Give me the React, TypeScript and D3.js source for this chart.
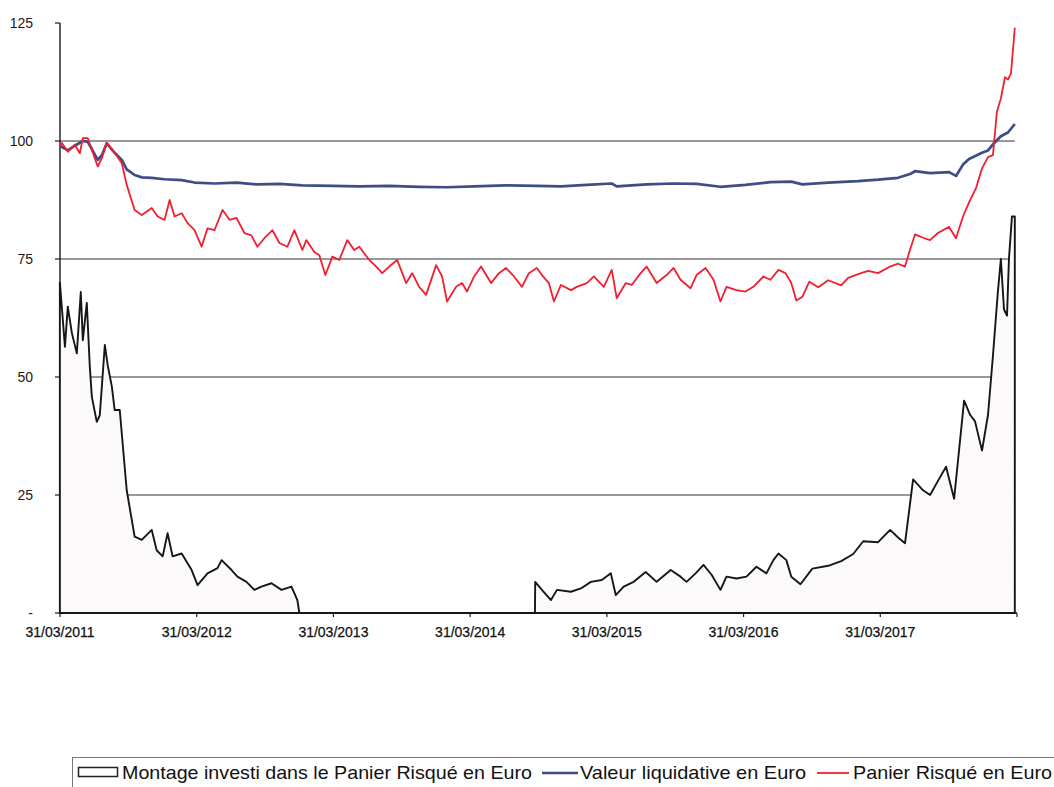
import React from "react";
import * as d3 from "d3";

// ---- Data (decimal year, value) ----
const montageInvesti: [number, number][] = [
  [2011.245, 70], [2011.267, 62], [2011.282, 56.4], [2011.303, 64.9], [2011.333, 59.3],
  [2011.369, 55], [2011.398, 68], [2011.413, 57.8], [2011.442, 65.7], [2011.464, 52.2],
  [2011.479, 45.8], [2011.515, 40.5], [2011.537, 41.9], [2011.574, 56.8], [2011.595, 52.5],
  [2011.625, 48], [2011.646, 43], [2011.683, 43], [2011.734, 26], [2011.792, 16.2],
  [2011.844, 15.5], [2011.917, 17.6], [2011.953, 13.3], [2011.997, 12], [2012.033, 16.9],
  [2012.07, 12], [2012.136, 12.6], [2012.209, 9.1], [2012.252, 5.9], [2012.325, 8.4],
  [2012.398, 9.5], [2012.428, 11.2], [2012.501, 9.1], [2012.544, 7.7], [2012.61, 6.6],
  [2012.668, 4.9], [2012.719, 5.6], [2012.793, 6.3], [2012.866, 4.9], [2012.939, 5.6],
  [2012.96, 4.2], [2012.982, 2.75], [2012.997, 0], [2014.72, 0], [2014.722, 6.6],
  [2014.771, 4.9], [2014.837, 2.75], [2014.881, 4.9], [2014.983, 4.5], [2015.056, 5.2],
  [2015.129, 6.6], [2015.209, 7], [2015.275, 8.4], [2015.311, 3.8], [2015.369, 5.6],
  [2015.442, 6.6], [2015.53, 8.7], [2015.61, 6.6], [2015.713, 9.1], [2015.785, 7.7],
  [2015.829, 6.6], [2015.895, 8.4], [2015.953, 10.2], [2016.012, 8.1], [2016.077, 4.9],
  [2016.121, 7.7], [2016.194, 7.3], [2016.267, 7.7], [2016.34, 9.8], [2016.413, 8.4],
  [2016.464, 11.2], [2016.501, 12.6], [2016.559, 11.2], [2016.595, 7.7], [2016.662, 6.1],
  [2016.749, 9.4], [2016.865, 10], [2016.96, 11], [2017.048, 12.5], [2017.121, 15.2],
  [2017.23, 15], [2017.318, 17.6], [2017.376, 16], [2017.427, 14.8], [2017.486, 28.3],
  [2017.559, 26], [2017.61, 25], [2017.668, 28], [2017.727, 31], [2017.786, 24.2],
  [2017.859, 45], [2017.903, 42], [2017.939, 40.6], [2017.99, 34.4], [2018.034, 42],
  [2018.07, 54.5], [2018.106, 68], [2018.128, 75], [2018.151, 64.3], [2018.173, 63],
  [2018.187, 75], [2018.209, 84], [2018.23, 84],
];

const valeurLiquidative: [number, number][] = [
  [2011.245, 99], [2011.303, 98], [2011.354, 99], [2011.413, 100], [2011.449, 99.8],
  [2011.479, 98.3], [2011.522, 96], [2011.552, 97], [2011.588, 99.5], [2011.646, 97.5],
  [2011.698, 96], [2011.734, 94], [2011.792, 92.8], [2011.844, 92.3], [2011.917, 92.2],
  [2012.011, 91.9], [2012.136, 91.7], [2012.23, 91.2], [2012.376, 91], [2012.537, 91.2],
  [2012.69, 90.8], [2012.851, 90.9], [2013.019, 90.6], [2013.238, 90.5], [2013.435, 90.4],
  [2013.654, 90.5], [2013.873, 90.3], [2014.077, 90.2], [2014.275, 90.4], [2014.508, 90.6],
  [2014.734, 90.5], [2014.91, 90.4], [2015.099, 90.7], [2015.282, 91], [2015.318, 90.4],
  [2015.537, 90.8], [2015.734, 91], [2015.902, 90.9], [2016.077, 90.3], [2016.26, 90.7],
  [2016.442, 91.3], [2016.595, 91.4], [2016.676, 90.8], [2016.865, 91.2], [2017.084, 91.5],
  [2017.23, 91.8], [2017.376, 92.2], [2017.464, 93], [2017.5, 93.6], [2017.61, 93.2],
  [2017.749, 93.4], [2017.8, 92.6], [2017.851, 95], [2017.895, 96.2], [2017.99, 97.5],
  [2018.034, 98], [2018.07, 99.3], [2018.128, 101], [2018.18, 101.8], [2018.23, 103.6],
];

const panierRisque: [number, number][] = [
  [2011.245, 99], [2011.26, 99.6], [2011.303, 97.7], [2011.354, 99.2], [2011.391, 97.4],
  [2011.413, 100.6], [2011.449, 100.6], [2011.479, 98.1], [2011.522, 94.6], [2011.552, 96.4],
  [2011.588, 99.6], [2011.646, 97.5], [2011.698, 95.3], [2011.734, 90.7], [2011.792, 85.4],
  [2011.844, 84.3], [2011.917, 85.8], [2011.96, 84], [2012.011, 83.3], [2012.048, 87.5],
  [2012.084, 84], [2012.136, 84.7], [2012.179, 82.6], [2012.23, 81.1], [2012.282, 77.6],
  [2012.325, 81.5], [2012.376, 81.1], [2012.435, 85.4], [2012.486, 83.3], [2012.537, 83.7],
  [2012.595, 80.5], [2012.646, 80], [2012.69, 77.6], [2012.741, 79.4], [2012.8, 81.1],
  [2012.851, 78.4], [2012.909, 77.6], [2012.96, 81.1], [2013.019, 76.9], [2013.048, 79],
  [2013.106, 76.5], [2013.143, 75.8], [2013.187, 71.6], [2013.238, 75.5], [2013.289, 74.8],
  [2013.347, 79], [2013.398, 76.9], [2013.435, 77.6], [2013.508, 74.8], [2013.559, 73.4],
  [2013.603, 72], [2013.654, 73.4], [2013.712, 74.8], [2013.778, 69.9], [2013.822, 72],
  [2013.873, 69.1], [2013.924, 67.4], [2013.997, 73.7], [2014.041, 71.3], [2014.077, 66],
  [2014.143, 69.1], [2014.187, 69.9], [2014.223, 68.1], [2014.275, 71.3], [2014.326, 73.4],
  [2014.399, 69.9], [2014.457, 72], [2014.508, 73.1], [2014.567, 71.3], [2014.625, 69.1],
  [2014.676, 72], [2014.734, 73.1], [2014.771, 71.6], [2014.822, 69.9], [2014.859, 66],
  [2014.91, 69.5], [2014.983, 68.4], [2015.026, 69.1], [2015.099, 69.9], [2015.151, 71.3],
  [2015.224, 69.1], [2015.282, 72.7], [2015.318, 66.7], [2015.384, 69.9], [2015.428, 69.5],
  [2015.493, 72], [2015.537, 73.4], [2015.61, 69.9], [2015.683, 71.6], [2015.734, 73.1],
  [2015.785, 70.6], [2015.858, 68.8], [2015.902, 71.6], [2015.968, 73.1], [2016.026, 70.6],
  [2016.077, 66], [2016.121, 69.1], [2016.194, 68.4], [2016.26, 68.1], [2016.318, 69.1],
  [2016.391, 71.3], [2016.442, 70.6], [2016.501, 72.7], [2016.552, 72], [2016.595, 69.9],
  [2016.632, 66.2], [2016.676, 67], [2016.727, 70.2], [2016.792, 69], [2016.865, 70.5],
  [2016.96, 69.4], [2017.011, 71], [2017.084, 71.8], [2017.157, 72.5], [2017.23, 72],
  [2017.318, 73.4], [2017.376, 74], [2017.427, 73.4], [2017.464, 77], [2017.5, 80.2],
  [2017.559, 79.5], [2017.61, 79], [2017.668, 80.5], [2017.749, 81.8], [2017.8, 79.4],
  [2017.851, 84], [2017.895, 87], [2017.946, 90], [2017.99, 94.2], [2018.034, 96.6],
  [2018.07, 97], [2018.099, 106.2], [2018.128, 109], [2018.158, 113.5], [2018.18, 113],
  [2018.202, 114.3], [2018.23, 124],
];

const tickYears = [2011, 2012, 2013, 2014, 2015, 2016, 2017, 2018];
const xTickLabels = ["31/03/2011", "31/03/2012", "31/03/2013", "31/03/2014", "31/03/2015", "31/03/2016", "31/03/2017", ""];
const yTicks = [0, 25, 50, 75, 100, 125];
const yTickLabels = ["-", "25", "50", "75", "100", "125"];
const gridValues = [25, 50, 75, 100];
const legendLabels = [
  "Montage investi dans le Panier Risqué en Euro",
  "Valeur liquidative en Euro",
  "Panier Risqué en Euro",
];

const MARCH31 = 0.246;
const FONT = "'Liberation Sans', Arial, sans-serif";

export default function App() {
  const W = 1054;
  const H = 787;
  const x = d3.scaleLinear().domain([2011 + MARCH31, 2018 + MARCH31]).range([60, 1017]);
  const y = d3.scaleLinear().domain([0, 125]).range([613, 23]);

  const area = d3
    .area<[number, number]>()
    .x((d) => x(d[0]))
    .y0(y(0))
    .y1((d) => y(d[1]));
  const line = d3
    .line<[number, number]>()
    .x((d) => x(d[0]))
    .y((d) => y(d[1]));

  const gridEnd = x(montageInvesti[montageInvesti.length - 1][0]);

  return (
    <svg
      width={W}
      height={H}
      style={{ position: "absolute", left: 0, top: 0, background: "#fff" }}
      fontFamily={FONT}
    >
      <rect x={0} y={0} width={W} height={H} fill="#fff" />
      {/* gridlines */}
      {gridValues.map((v) => (
        <line key={v} x1={x.range()[0]} x2={gridEnd} y1={y(v)} y2={y(v)} stroke="#333" strokeWidth={1} />
      ))}
      {/* axes */}
      <line x1={60} x2={60} y1={y(125)} y2={y(0)} stroke="#1a1a1a" strokeWidth={1.4} />
      <line x1={60} x2={x.range()[1]} y1={y(0)} y2={y(0)} stroke="#1a1a1a" strokeWidth={1.4} />
      {yTicks.map((v, i) => (
        <g key={v}>
          <line x1={55} x2={60} y1={y(v)} y2={y(v)} stroke="#1a1a1a" strokeWidth={1.2} />
          <text x={33} y={y(v)} dy="0.35em" textAnchor="end" fontSize={14} fill="#1a1a1a">
            {yTickLabels[i]}
          </text>
        </g>
      ))}
      {tickYears.map((yr, i) => (
        <g key={yr}>
          <line x1={x(yr + MARCH31)} x2={x(yr + MARCH31)} y1={y(0)} y2={y(0) + 4} stroke="#1a1a1a" strokeWidth={1.2} />
          {xTickLabels[i] && (
            <text x={x(yr + MARCH31)} y={637} textAnchor="middle" fontSize={14} fill="#111" stroke="#111" strokeWidth={0.25}>
              {xTickLabels[i]}
            </text>
          )}
        </g>
      ))}
      {/* series */}
      <path d={area(montageInvesti) || ""} fill="#fcf9fa" stroke="#161616" strokeWidth={1.9} strokeLinejoin="round" />
      <path d={line(valeurLiquidative) || ""} fill="none" stroke="#3e4d86" strokeWidth={2.7} strokeLinejoin="round" />
      <path d={line(panierRisque) || ""} fill="none" stroke="#f21f30" strokeWidth={1.8} strokeLinejoin="round" />

      {/* legend */}
      <rect x={72.5} y={757.5} width={1000} height={40} fill="#fff" stroke="#777" strokeWidth={1} />
      <rect x={78.5} y={767.5} width={39} height={9} fill="#fff" stroke="#222" strokeWidth={1.5} />
      <text x={122} y={779} fontSize={19} fill="#111" textLength={410} lengthAdjust="spacingAndGlyphs">
        {legendLabels[0]}
      </text>
      <line x1={542} x2={578} y1={773} y2={773} stroke="#3e4d86" strokeWidth={2.5} />
      <text x={580} y={779} fontSize={19} fill="#111" textLength={226} lengthAdjust="spacingAndGlyphs">
        {legendLabels[1]}
      </text>
      <line x1={817} x2={849} y1={773} y2={773} stroke="#f21f30" strokeWidth={1.8} />
      <text x={853} y={779} fontSize={19} fill="#111" textLength={199} lengthAdjust="spacingAndGlyphs">
        {legendLabels[2]}
      </text>
    </svg>
  );
}
